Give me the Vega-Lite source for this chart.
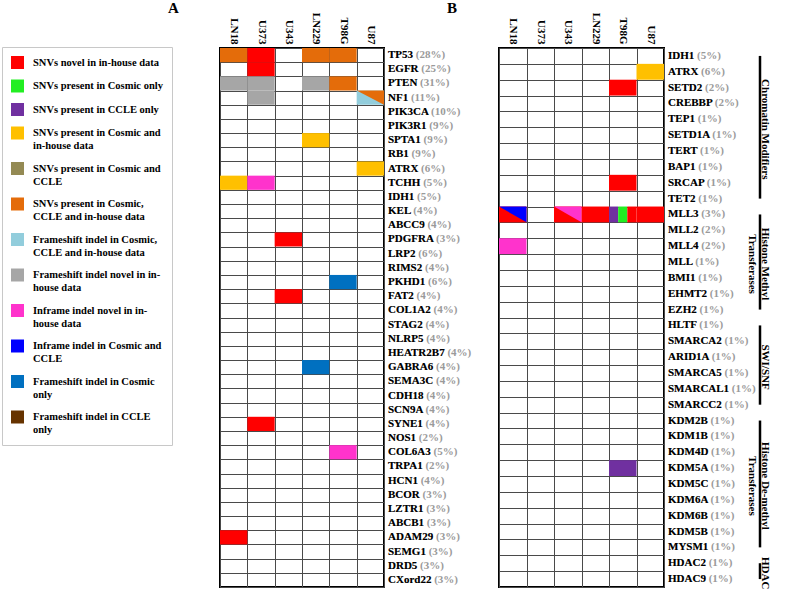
{
  "$schema": "https://vega.github.io/schema/vega-lite/v6.json",
  "background": "white",
  "padding": {"left": 1, "top": 0, "right": 0, "bottom": 0},
  "bounds": "flush",
  "spacing": 115,
  "config": {
    "font": "Liberation Serif",
    "view": {"stroke": "black", "strokeWidth": 2},
    "axisX": {"labelAngle": 90, "labelAlign": "right", "labelBaseline": "middle", "labelFont": "Liberation Serif", "labelFontWeight": "bold", "labelFontSize": 11, "labelColor": "black", "labelPadding": 4, "ticks": false, "domain": false, "grid": true, "gridColor": "#4a4a4a", "gridWidth": 1, "gridOpacity": 1, "tickBand": "extent", "zindex": 1},
    "axisY": {"labels": false, "ticks": false, "domain": false, "grid": true, "gridColor": "#4a4a4a", "gridWidth": 1, "gridOpacity": 1, "tickBand": "extent", "zindex": 1},
    "title": {"font": "Liberation Serif", "fontWeight": "bold", "fontSize": 15, "color": "black", "anchor": "start", "frame": "group", "offset": -4}
  },
  "datasets": {
    "genesA": [
      {"gene": "TP53", "pct": 28}, {"gene": "EGFR", "pct": 25}, {"gene": "PTEN", "pct": 31}, {"gene": "NF1", "pct": 11},
      {"gene": "PIK3CA", "pct": 10}, {"gene": "PIK3R1", "pct": 9}, {"gene": "SPTA1", "pct": 9}, {"gene": "RB1", "pct": 9},
      {"gene": "ATRX", "pct": 6}, {"gene": "TCHH", "pct": 5}, {"gene": "IDH1", "pct": 5}, {"gene": "KEL", "pct": 4},
      {"gene": "ABCC9", "pct": 4}, {"gene": "PDGFRA", "pct": 3}, {"gene": "LRP2", "pct": 6}, {"gene": "RIMS2", "pct": 4},
      {"gene": "PKHD1", "pct": 6}, {"gene": "FAT2", "pct": 4}, {"gene": "COL1A2", "pct": 4}, {"gene": "STAG2", "pct": 4},
      {"gene": "NLRP5", "pct": 4}, {"gene": "HEATR2B7", "pct": 4}, {"gene": "GABRA6", "pct": 4}, {"gene": "SEMA3C", "pct": 4},
      {"gene": "CDH18", "pct": 4}, {"gene": "SCN9A", "pct": 4}, {"gene": "SYNE1", "pct": 4}, {"gene": "NOS1", "pct": 2},
      {"gene": "COL6A3", "pct": 5}, {"gene": "TRPA1", "pct": 2}, {"gene": "HCN1", "pct": 4}, {"gene": "BCOR", "pct": 3},
      {"gene": "LZTR1", "pct": 3}, {"gene": "ABCB1", "pct": 3}, {"gene": "ADAM29", "pct": 3}, {"gene": "SEMG1", "pct": 3},
      {"gene": "DRD5", "pct": 3}, {"gene": "CXord22", "pct": 3}
    ],
    "cellsA": [
      {"gene": "TP53", "line": "LN18", "type": "snv_all"},
      {"gene": "TP53", "line": "U373", "type": "snv_novel"},
      {"gene": "TP53", "line": "LN229", "type": "snv_all"},
      {"gene": "TP53", "line": "T98G", "type": "snv_all"},
      {"gene": "EGFR", "line": "U373", "type": "snv_novel"},
      {"gene": "PTEN", "line": "LN18", "type": "fs_novel"},
      {"gene": "PTEN", "line": "U373", "type": "fs_novel"},
      {"gene": "PTEN", "line": "LN229", "type": "fs_novel"},
      {"gene": "PTEN", "line": "T98G", "type": "snv_all"},
      {"gene": "NF1", "line": "U373", "type": "fs_novel"},
      {"gene": "NF1", "line": "U87", "type": "fs_all"},
      {"gene": "SPTA1", "line": "LN229", "type": "snv_cosmic_inhouse"},
      {"gene": "ATRX", "line": "U87", "type": "snv_cosmic_inhouse"},
      {"gene": "TCHH", "line": "LN18", "type": "snv_cosmic_inhouse"},
      {"gene": "TCHH", "line": "U373", "type": "if_novel"},
      {"gene": "PDGFRA", "line": "U343", "type": "snv_novel"},
      {"gene": "PKHD1", "line": "T98G", "type": "fs_cosmic"},
      {"gene": "FAT2", "line": "U343", "type": "snv_novel"},
      {"gene": "GABRA6", "line": "LN229", "type": "fs_cosmic"},
      {"gene": "SYNE1", "line": "U373", "type": "snv_novel"},
      {"gene": "COL6A3", "line": "T98G", "type": "if_novel"},
      {"gene": "ADAM29", "line": "LN18", "type": "snv_novel"}
    ],
    "triA": [
      {"gene": "NF1", "line": "U87", "type": "snv_all"}
    ],
    "genesB": [
      {"gene": "IDH1", "pct": 5}, {"gene": "ATRX", "pct": 6}, {"gene": "SETD2", "pct": 2}, {"gene": "CREBBP", "pct": 2},
      {"gene": "TEP1", "pct": 1}, {"gene": "SETD1A", "pct": 1}, {"gene": "TERT", "pct": 1}, {"gene": "BAP1", "pct": 1},
      {"gene": "SRCAP", "pct": 1}, {"gene": "TET2", "pct": 1}, {"gene": "MLL3", "pct": 3}, {"gene": "MLL2", "pct": 2},
      {"gene": "MLL4", "pct": 2}, {"gene": "MLL", "pct": 1}, {"gene": "BMI1", "pct": 1}, {"gene": "EHMT2", "pct": 1},
      {"gene": "EZH2", "pct": 1}, {"gene": "HLTF", "pct": 1}, {"gene": "SMARCA2", "pct": 1}, {"gene": "ARID1A", "pct": 1},
      {"gene": "SMARCA5", "pct": 1}, {"gene": "SMARCAL1", "pct": 1}, {"gene": "SMARCC2", "pct": 1}, {"gene": "KDM2B", "pct": 1},
      {"gene": "KDM1B", "pct": 1}, {"gene": "KDM4D", "pct": 1}, {"gene": "KDM5A", "pct": 1}, {"gene": "KDM5C", "pct": 1},
      {"gene": "KDM6A", "pct": 1}, {"gene": "KDM6B", "pct": 1}, {"gene": "KDM5B", "pct": 1}, {"gene": "MYSM1", "pct": 1},
      {"gene": "HDAC2", "pct": 1}, {"gene": "HDAC9", "pct": 1}
    ],
    "cellsB": [
      {"gene": "ATRX", "line": "U87", "type": "snv_cosmic_inhouse"},
      {"gene": "SETD2", "line": "T98G", "type": "snv_novel"},
      {"gene": "SRCAP", "line": "T98G", "type": "snv_novel"},
      {"gene": "MLL3", "line": "LN18", "type": "snv_novel"},
      {"gene": "MLL3", "line": "U343", "type": "snv_novel"},
      {"gene": "MLL3", "line": "LN229", "type": "snv_novel"},
      {"gene": "MLL3", "line": "U87", "type": "snv_novel"},
      {"gene": "MLL4", "line": "LN18", "type": "if_novel"},
      {"gene": "KDM5A", "line": "T98G", "type": "snv_ccle"}
    ],
    "triB": [
      {"gene": "MLL3", "line": "LN18", "type": "if_cosmic_ccle"},
      {"gene": "MLL3", "line": "U343", "type": "if_novel"}
    ],
    "stripsB": [
      {"gene": "MLL3", "line": "T98G", "part": "1", "type": "snv_ccle"},
      {"gene": "MLL3", "line": "T98G", "part": "2", "type": "snv_cosmic"},
      {"gene": "MLL3", "line": "T98G", "part": "3", "type": "snv_novel"}
    ],
    "groupsB": [
      {"label": ["Chromatin Modifiers"], "first": "IDH1", "last": "TET2", "mid": "SETD1A", "n": 10},
      {"label": ["Histone Methyl", "Transferases"], "first": "MLL3", "last": "EZH2", "mid": "MLL", "n": 7},
      {"label": ["SWI/SNF"], "first": "HLTF", "last": "SMARCC2", "mid": "SMARCA5", "n": 6},
      {"label": ["Histone De-methyl", "Transferases"], "first": "KDM2B", "last": "MYSM1", "mid": "KDM5C", "n": 9},
      {"label": ["HDAC"], "first": "HDAC2", "last": "HDAC9", "mid": "HDAC9", "n": 2}
    ]
  },
  "hconcat": [
    {
      "width": 164,
      "height": 539,
      "title": {"text": "A", "dx": -52},
      "layer": [
        {
          "data": {"name": "cellsA"},
          "mark": {"type": "rect"},
          "encoding": {
            "x": {"field": "line", "type": "nominal", "title": null, "axis": {"orient": "top"}, "scale": {"domain": ["LN18", "U373", "U343", "LN229", "T98G", "U87"], "paddingInner": 0, "paddingOuter": 0}},
            "y": {"field": "gene", "type": "nominal", "title": null, "scale": {"domain": ["TP53", "EGFR", "PTEN", "NF1", "PIK3CA", "PIK3R1", "SPTA1", "RB1", "ATRX", "TCHH", "IDH1", "KEL", "ABCC9", "PDGFRA", "LRP2", "RIMS2", "PKHD1", "FAT2", "COL1A2", "STAG2", "NLRP5", "HEATR2B7", "GABRA6", "SEMA3C", "CDH18", "SCN9A", "SYNE1", "NOS1", "COL6A3", "TRPA1", "HCN1", "BCOR", "LZTR1", "ABCB1", "ADAM29", "SEMG1", "DRD5", "CXord22"], "paddingInner": 0, "paddingOuter": 0}},
            "color": {
              "field": "type", "type": "nominal",
              "scale": {
                "domain": ["snv_novel", "snv_cosmic", "snv_ccle", "snv_cosmic_inhouse", "snv_cosmic_ccle", "snv_all", "fs_all", "fs_novel", "if_novel", "if_cosmic_ccle", "fs_cosmic", "fs_ccle"],
                "range": ["#ff0000", "#22ee22", "#7030a0", "#ffc000", "#948a54", "#e46c0a", "#92cddc", "#a6a6a6", "#ff33cc", "#0000ff", "#0070c0", "#663300"]
              },
              "legend": {
                "orient": "none", "legendX": -218, "legendY": -1, "title": null,
                "symbolType": "square", "symbolSize": 169, "symbolStrokeWidth": 0, "symbolOpacity": 1,
                "labelFont": "Liberation Serif", "labelFontWeight": "bold", "labelFontSize": 10.5, "labelColor": "black",
                "labelLimit": 400, "labelOffset": 9, "rowPadding": 10.5, "padding": 9,
                "strokeColor": "#c8c8c8", "fillColor": "white",
                "labelExpr": "({'snv_novel': 'SNVs novel in  in-house data', 'snv_cosmic': 'SNVs present in Cosmic only', 'snv_ccle': 'SNVs present in CCLE only', 'snv_cosmic_inhouse': ['SNVs present in Cosmic and', 'in-house data'], 'snv_cosmic_ccle': ['SNVs present in Cosmic and', 'CCLE'], 'snv_all': ['SNVs present in Cosmic,', 'CCLE and in-house data'], 'fs_all': ['Frameshift indel in Cosmic,', 'CCLE and in-house data'], 'fs_novel': ['Frameshift indel novel in in-', 'house data'], 'if_novel': ['Inframe indel novel in in-', 'house data'], 'if_cosmic_ccle': ['Inframe indel in Cosmic and', 'CCLE'], 'fs_cosmic': ['Frameshift indel  in Cosmic', 'only'], 'fs_ccle': ['Frameshift indel  in CCLE', 'only']})[datum.value]",
                "encode": {"labels": {"update": {"lineHeight": {"value": 13}}}}
              }
            }
          }
        },
        {
          "data": {"name": "triA"},
          "mark": {"type": "point", "shape": "M-1,-0.52L1,-0.52L1,0.52Z", "size": 747, "filled": true, "opacity": 1, "strokeWidth": 0},
          "encoding": {
            "x": {"field": "line", "type": "nominal", "title": null},
            "y": {"field": "gene", "type": "nominal", "title": null},
            "color": {"field": "type", "type": "nominal", "legend": null}
          }
        },
        {
          "data": {"name": "genesA"},
          "transform": [{"calculate": "datum.gene + ' (' + datum.pct + '%)'", "as": "label"}],
          "mark": {"type": "text", "align": "left", "baseline": "middle", "dx": 4, "font": "Liberation Serif", "fontWeight": "bold", "fontSize": 11, "color": "#9a9a9a"},
          "encoding": {
            "x": {"value": "width"},
            "y": {"field": "gene", "type": "nominal", "title": null},
            "text": {"field": "label"}
          }
        },
        {
          "data": {"name": "genesA"},
          "mark": {"type": "text", "align": "left", "baseline": "middle", "dx": 4, "font": "Liberation Serif", "fontWeight": "bold", "fontSize": 11, "color": "black"},
          "encoding": {
            "x": {"value": "width"},
            "y": {"field": "gene", "type": "nominal", "title": null},
            "text": {"field": "gene"}
          }
        }
      ]
    },
    {
      "hconcat": [
        {
          "width": 165,
          "height": 539,
          "title": {"text": "B", "dx": -52},
          "layer": [
            {
              "data": {"name": "cellsB"},
              "mark": {"type": "rect"},
              "encoding": {
                "x": {"field": "line", "type": "nominal", "title": null, "axis": {"orient": "top"}, "scale": {"domain": ["LN18", "U373", "U343", "LN229", "T98G", "U87"], "paddingInner": 0, "paddingOuter": 0}},
                "y": {"field": "gene", "type": "nominal", "title": null, "scale": {"domain": ["IDH1", "ATRX", "SETD2", "CREBBP", "TEP1", "SETD1A", "TERT", "BAP1", "SRCAP", "TET2", "MLL3", "MLL2", "MLL4", "MLL", "BMI1", "EHMT2", "EZH2", "HLTF", "SMARCA2", "ARID1A", "SMARCA5", "SMARCAL1", "SMARCC2", "KDM2B", "KDM1B", "KDM4D", "KDM5A", "KDM5C", "KDM6A", "KDM6B", "KDM5B", "MYSM1", "HDAC2", "HDAC9"], "paddingInner": 0, "paddingOuter": 0}},
                "color": {"field": "type", "type": "nominal", "legend": null}
              }
            },
            {
              "data": {"name": "stripsB"},
              "mark": {"type": "rect"},
              "encoding": {
                "x": {"field": "line", "type": "nominal", "title": null},
                "xOffset": {"field": "part", "type": "nominal", "scale": {"paddingInner": 0, "paddingOuter": 0}},
                "y": {"field": "gene", "type": "nominal", "title": null},
                "color": {"field": "type", "type": "nominal", "legend": null}
              }
            },
            {
              "data": {"name": "triB"},
              "mark": {"type": "point", "shape": "M-1,-0.576L1,-0.576L1,0.576Z", "size": 756, "filled": true, "opacity": 1, "strokeWidth": 0},
              "encoding": {
                "x": {"field": "line", "type": "nominal", "title": null},
                "y": {"field": "gene", "type": "nominal", "title": null},
                "color": {"field": "type", "type": "nominal", "legend": null}
              }
            },
            {
              "data": {"name": "genesB"},
              "transform": [{"calculate": "datum.gene + ' (' + datum.pct + '%)'", "as": "label"}],
              "mark": {"type": "text", "align": "left", "baseline": "middle", "dx": 4, "font": "Liberation Serif", "fontWeight": "bold", "fontSize": 11, "color": "#9a9a9a"},
              "encoding": {
                "x": {"value": "width"},
                "y": {"field": "gene", "type": "nominal", "title": null},
                "text": {"field": "label"}
              }
            },
            {
              "data": {"name": "genesB"},
              "mark": {"type": "text", "align": "left", "baseline": "middle", "dx": 4, "font": "Liberation Serif", "fontWeight": "bold", "fontSize": 11, "color": "black"},
              "encoding": {
                "x": {"value": "width"},
                "y": {"field": "gene", "type": "nominal", "title": null},
                "text": {"field": "gene"}
              }
            }
          ]
        },
        {
          "width": 20,
          "height": 539,
          "view": {"stroke": null},
          "layer": [
            {
              "data": {"name": "groupsB"},
              "mark": {"type": "rule", "strokeWidth": 2.5, "color": "black"},
              "encoding": {
                "y": {"field": "first", "type": "nominal", "axis": null, "scale": {"domain": ["IDH1", "ATRX", "SETD2", "CREBBP", "TEP1", "SETD1A", "TERT", "BAP1", "SRCAP", "TET2", "MLL3", "MLL2", "MLL4", "MLL", "BMI1", "EHMT2", "EZH2", "HLTF", "SMARCA2", "ARID1A", "SMARCA5", "SMARCAL1", "SMARCC2", "KDM2B", "KDM1B", "KDM4D", "KDM5A", "KDM5C", "KDM6A", "KDM6B", "KDM5B", "MYSM1", "HDAC2", "HDAC9"], "paddingInner": 0, "paddingOuter": 0}},
                "y2": {"field": "last"}
              }
            },
            {
              "data": {"name": "groupsB"},
              "transform": [{"filter": "datum.n % 2 == 1"}],
              "mark": {"type": "text", "angle": 90, "align": "center", "baseline": "bottom", "dx": 2, "font": "Liberation Serif", "fontWeight": "bold", "fontSize": 11, "lineHeight": 13, "color": "black"},
              "encoding": {
                "y": {"field": "mid", "type": "nominal", "axis": null, "bandPosition": 0.5},
                "text": {"field": "label"}
              }
            },
            {
              "data": {"name": "groupsB"},
              "transform": [{"filter": "datum.n % 2 == 0"}],
              "mark": {"type": "text", "angle": 90, "align": "center", "baseline": "bottom", "dx": 2, "font": "Liberation Serif", "fontWeight": "bold", "fontSize": 11, "lineHeight": 13, "color": "black"},
              "encoding": {
                "y": {"field": "mid", "type": "nominal", "axis": null, "bandPosition": 0},
                "text": {"field": "label"}
              }
            }
          ]
        }
      ],
      "spacing": 86,
      "bounds": "flush"
    }
  ]
}
